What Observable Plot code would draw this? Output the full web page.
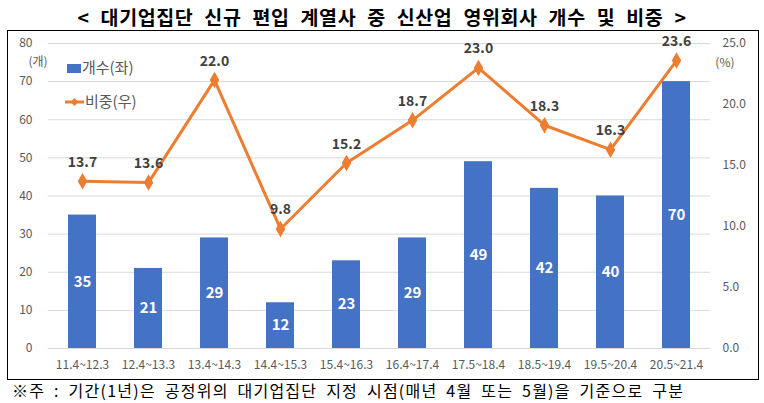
<!DOCTYPE html>
<html><head><meta charset="utf-8">
<script src="https://cdn.jsdelivr.net/npm/d3@7"></script>
<script src="https://cdn.jsdelivr.net/npm/@observablehq/plot@0.6"></script>
<style>
body{margin:0;background:#fff;font-family:"Noto Sans CJK KR","Noto Sans",sans-serif;}
#wrap{position:relative;width:764px;height:403px;overflow:hidden;}
#title{position:absolute;left:0;top:4.5px;width:764px;height:24px;line-height:24px;text-align:center;font-weight:bold;font-size:19.5px;word-spacing:6px;letter-spacing:0.6px;color:#000;}
#chart{position:absolute;left:0;top:30px;}
#chart svg{overflow:visible;}
#box{position:absolute;left:7px;top:30px;width:750px;height:348px;border:1px solid #000;pointer-events:none;}
#note{position:absolute;left:12px;top:379px;font-size:16px;line-height:22px;letter-spacing:1.25px;word-spacing:4px;color:#000;white-space:nowrap;}
.leg{position:absolute;font-size:15px;color:#595959;line-height:18px;white-space:nowrap;}
</style></head>
<body>
<div id="wrap">
<div id="title">&lt; 대기업집단 신규 편입 계열사 중 신산업 영위회사 개수 및 비중 &gt;</div>
<div id="chart"></div>
<div id="box"></div>
<div class="leg" style="left:66px;top:58px;"><svg width="16" height="12" style="vertical-align:-1px"><rect x="1" y="2" width="14" height="9" fill="#4472C4"/></svg>개수(좌)</div>
<div class="leg" style="left:64px;top:92px;"><svg width="21" height="12" style="vertical-align:-1px"><line x1="1" y1="6" x2="20" y2="6" stroke="#ED7D31" stroke-width="3"/><path d="M10.5 2 L14.5 6 L10.5 10 L6.5 6Z" fill="#ED7D31"/></svg>비중(우)</div>
<div id="note">※주 : 기간(1년)은 공정위의 대기업집단 지정 시점(매년 4월 또는 5월)을 기준으로 구분</div>
</div>
<script>
const periods = ["11.4~12.3","12.4~13.3","13.4~14.3","14.4~15.3","15.4~16.3","16.4~17.4","17.5~18.4","18.5~19.4","19.5~20.4","20.5~21.4"];
const counts = [35,21,29,12,23,29,49,42,40,70];
const shares = [13.7,13.6,22.0,9.8,15.2,18.7,23.0,18.3,16.3,23.6];
const leftTicks = [0,10,20,30,40,50,60,70,80];
const rightTicks = [0,5,10,15,20,25];

const leftMax = 80, rightMax = 25, k = leftMax / rightMax;
const data = periods.map((p,i)=>({period:p, count:counts[i], share:shares[i]}));

const chart = Plot.plot({
  width: 764, height: 349,
  marginLeft: 48, marginRight: 54, marginTop: 13, marginBottom: 31,
  style: {fontFamily: '"Noto Sans CJK KR","Noto Sans",sans-serif', fontSize: "12px", background: "transparent", overflow: "visible"},
  x: {type: "band", domain: periods, paddingInner: 0.58, paddingOuter: 0.30, label: null},
  y: {domain: [0, leftMax], label: null},
  marks: [
    Plot.gridY(leftTicks, {stroke: "#d9d9d9", strokeOpacity: 1}),
    Plot.axisY(leftTicks, {tickSize: 0, tickPadding: 16, fill: "#595959", fontSize: 12, label: null}),
    Plot.axisY(rightTicks.map(v=>v*k), {anchor: "right", tickSize: 0, tickPadding: 12, textAnchor: "start", fill: "#595959", fontSize: 12, tickFormat: d => (d/k).toFixed(1), label: null}),
    Plot.axisX({tickSize: 0, tickPadding: 12, fill: "#595959", fontSize: 12, label: null}),
    Plot.barY(data, {x: "period", y: "count", fill: "#4472C4"}),
    Plot.text(data, {x: "period", y: d => d.count/2, text: d => String(d.count), fill: "#fff", fontWeight: "bold", fontSize: 15}),
    Plot.line(data, {x: "period", y: d => d.share*k, stroke: "#ED7D31", strokeWidth: 3}),
    Plot.dot(data, {x: "period", y: d => d.share*k, symbol: "diamond", r: 5, fill: "#ED7D31", stroke: "none"}),
    Plot.text(data, {x: "period", y: d => d.share*k, text: d => d.share.toFixed(1), dy: -19, fill: "#404040", fontWeight: "bold", fontSize: 14}),
    Plot.text(["(개)"], {frameAnchor: "top-left", dx: -20, dy: 14, fill: "#595959", fontSize: 12}),
    Plot.text(["(%)"], {frameAnchor: "top-right", dx: 24, dy: 15, fill: "#595959", fontSize: 12})
  ]
});
document.getElementById("chart").appendChild(chart);
</script>
</body></html>
